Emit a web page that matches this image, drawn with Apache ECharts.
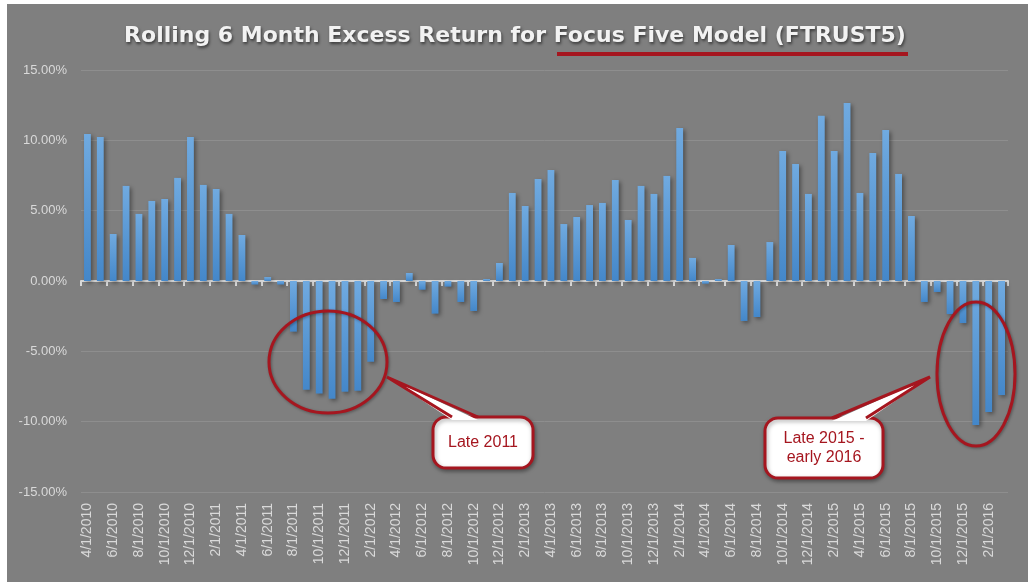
<!DOCTYPE html>
<html>
<head>
<meta charset="utf-8">
<title>Rolling 6 Month Excess Return</title>
<script src="https://cdn.jsdelivr.net/npm/echarts@6.0.0/dist/echarts.min.js"></script>
<style>
  html, body { margin: 0; padding: 0; background: #ffffff; }
  #frame { position: absolute; left: 7px; top: 4px; width: 1021px; height: 578px; background: #7f7f7f; }
  #visual { position: absolute; left: 0; top: 0; width: 1030px; height: 585px; }
</style>
</head>
<body>
<div id="frame"></div>
<div id="visual"></div>
<script>
// month labels (every month, Excel shows every other one)
const months = [
  '4/1/2010', '5/1/2010', '6/1/2010', '7/1/2010', '8/1/2010', '9/1/2010', '10/1/2010', '11/1/2010', '12/1/2010',
  '1/1/2011', '2/1/2011', '3/1/2011', '4/1/2011', '5/1/2011', '6/1/2011', '7/1/2011', '8/1/2011', '9/1/2011', '10/1/2011', '11/1/2011', '12/1/2011',
  '1/1/2012', '2/1/2012', '3/1/2012', '4/1/2012', '5/1/2012', '6/1/2012', '7/1/2012', '8/1/2012', '9/1/2012', '10/1/2012', '11/1/2012', '12/1/2012',
  '1/1/2013', '2/1/2013', '3/1/2013', '4/1/2013', '5/1/2013', '6/1/2013', '7/1/2013', '8/1/2013', '9/1/2013', '10/1/2013', '11/1/2013', '12/1/2013',
  '1/1/2014', '2/1/2014', '3/1/2014', '4/1/2014', '5/1/2014', '6/1/2014', '7/1/2014', '8/1/2014', '9/1/2014', '10/1/2014', '11/1/2014', '12/1/2014',
  '1/1/2015', '2/1/2015', '3/1/2015', '4/1/2015', '5/1/2015', '6/1/2015', '7/1/2015', '8/1/2015', '9/1/2015', '10/1/2015', '11/1/2015', '12/1/2015',
  '1/1/2016', '2/1/2016', '3/1/2016'
]

// rolling 6 month excess return, in percent
const excessReturn = [
  10.45, 10.24, 3.34, 6.76, 4.77, 5.69, 5.83, 7.33, 10.24,
  6.83, 6.54, 4.77, 3.27, -0.25, 0.28, -0.25, -3.60, -7.73, -8.00, -8.37, -7.87,
  -7.80, -5.74, -1.28, -1.49, 0.57, -0.62, -2.32, -0.40, -1.49, -2.13, 0.14, 1.28,
  6.26, 5.33, 7.25, 7.89, 4.05, 4.55, 5.40, 5.55, 7.18, 4.34, 6.76, 6.19,
  7.47, 10.88, 1.64, -0.19, 0.14, 2.56, -2.84, -2.56, 2.77, 9.25, 8.32, 6.19,
  11.74, 9.25, 12.66, 6.26, 9.10, 10.74, 7.61, 4.62, -1.49, -0.78, -2.35, -2.99,
  -10.24, -9.32, -8.11
]

const yMin = -15
const yMax = 15
const yStep = 5

const RED = '#a5161f'
const LABEL = '#d9d9d9'

// callout balloon: rounded box + pointer towards the circled bars
const callout = (box, tip, base, lines) => {
  const els = [
    {
      type: 'rect',
      shape: { x: box.x, y: box.y, width: box.w, height: box.h, r: 13 },
      style: { fill: '#ffffff', stroke: RED, lineWidth: 3, shadowBlur: 4, shadowColor: 'rgba(0,0,0,0.35)', shadowOffsetX: 1, shadowOffsetY: 2 },
      z: 100
    },
    {
      type: 'polygon',
      shape: { points: [tip, [base[1], box.y + 3], [base[0], box.y + 3]] },
      style: { fill: '#ffffff' },
      z: 101
    },
    {
      type: 'polyline',
      shape: { points: [[base[0], box.y], tip, [base[1], box.y]] },
      style: { fill: null, stroke: RED, lineWidth: 3, lineJoin: 'miter' },
      z: 102
    }
  ]
  const lh = 19
  const y0 = box.y + box.h / 2 - (lines.length - 1) * lh / 2
  lines.forEach((t, i) => {
    els.push({
      type: 'text',
      x: box.x + box.w / 2,
      y: y0 + i * lh,
      style: { text: t, fill: RED, font: '16px "Liberation Sans", Arial, sans-serif', align: 'center', verticalAlign: 'middle' },
      z: 103
    })
  })
  return els
}

const ring = (cx, cy, rx, ry) => ({
  type: 'ellipse',
  shape: { cx, cy, rx, ry },
  style: { fill: null, stroke: RED, lineWidth: 3, shadowBlur: 3, shadowColor: 'rgba(0,0,0,0.35)', shadowOffsetX: 1, shadowOffsetY: 1 },
  z: 100
})

const chart = echarts.init(document.getElementById('visual'))

chart.setOption({
  backgroundColor: 'transparent',
  animation: false,
  title: {
    text: 'Rolling 6 Month Excess Return for Focus Five Model (FTRUST5)',
    left: 'center',
    top: 20,
    textStyle: {
      fontFamily: 'DejaVu Sans',
      fontWeight: 'bold',
      fontSize: 22,
      color: '#f2f2f2',
      textShadowColor: 'rgba(0,0,0,0.55)',
      textShadowBlur: 3,
      textShadowOffsetX: 1,
      textShadowOffsetY: 2
    }
  },
  grid: { left: 81, right: 22, top: 70, bottom: 93 },
  xAxis: [
    {
      // the zero line with its ticks
      type: 'category',
      data: months,
      position: 'top',
      axisLine: { onZero: true, lineStyle: { color: LABEL, width: 2 } },
      axisTick: { show: true, inside: true, interval: 1, length: 5, lineStyle: { color: LABEL, width: 2 } },
      axisLabel: { show: false },
      splitLine: { show: false }
    },
    {
      // labels sit low, under the plot
      type: 'category',
      data: months,
      position: 'bottom',
      axisLine: { show: false, onZero: false },
      axisTick: { show: false },
      axisLabel: {
        interval: 1,
        rotate: 90,
        margin: 11,
        color: LABEL,
        fontFamily: 'Liberation Sans',
        fontSize: 14
      },
      splitLine: { show: false }
    }
  ],
  yAxis: {
    type: 'value',
    min: yMin,
    max: yMax,
    interval: yStep,
    axisLine: { show: false },
    axisTick: { show: false },
    axisLabel: {
      margin: 14,
      color: LABEL,
      fontFamily: 'Liberation Sans',
      fontSize: 13,
      formatter: v => v.toFixed(2) + '%'
    },
    splitLine: { lineStyle: { color: '#8e8e8e', width: 1 } }
  },
  series: [{
    name: 'Excess Return',
    type: 'bar',
    xAxisIndex: 0,
    data: excessReturn,
    barCategoryGap: '47%',
    itemStyle: {
      color: new echarts.graphic.LinearGradient(0, 0, 0, 1, [
        { offset: 0, color: '#70aae0' },
        { offset: 1, color: '#4487c9' }
      ]),
      shadowColor: 'rgba(0,0,0,0.4)',
      shadowBlur: 4,
      shadowOffsetX: 2,
      shadowOffsetY: 2
    }
  }],
  graphic: [
    {
      type: 'line',
      shape: { x1: 557, y1: 54, x2: 908, y2: 54 },
      style: { stroke: RED, lineWidth: 4 },
      z: 100
    },
    ring(328, 362, 59, 51),
    ring(976, 374, 39, 72),
    ...callout({ x: 433, y: 417, w: 100, h: 51 }, [387, 377], [452, 478], ['Late 2011']),
    ...callout({ x: 765, y: 418, w: 118, h: 60 }, [930, 377], [832, 866], ['Late 2015 -', 'early 2016'])
  ]
})
</script>
</body>
</html>
